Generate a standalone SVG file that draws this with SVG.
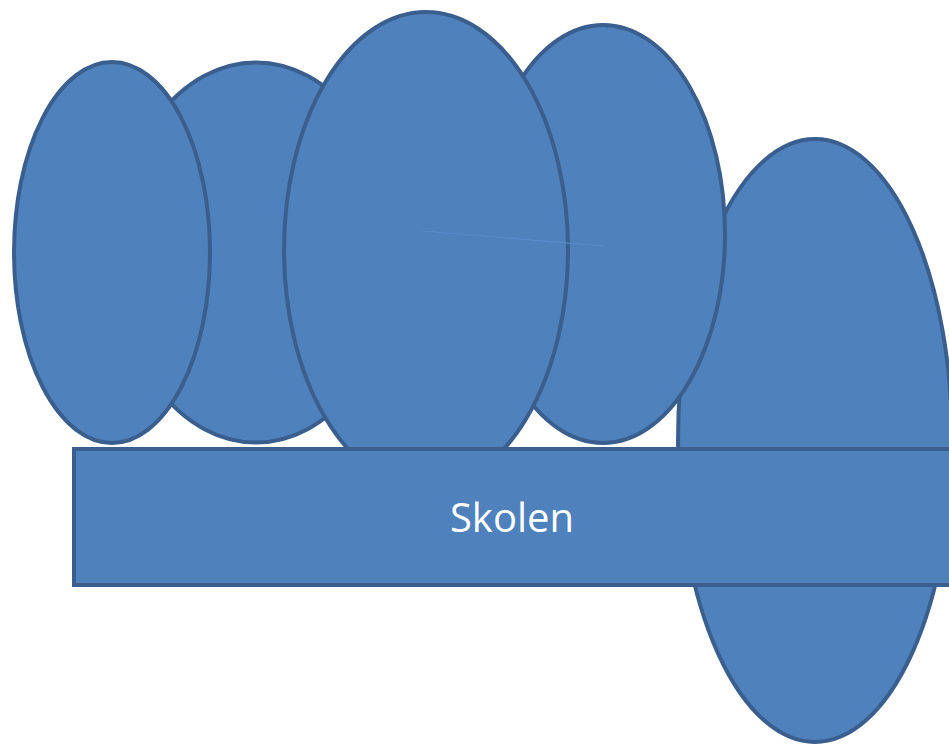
<svg xmlns="http://www.w3.org/2000/svg" width="949" height="745" viewBox="0 0 949 745">
<style>
.shape{fill:#4f81bd;stroke:#3a5f8e;stroke-width:4}
.label{fill:#ffffff;font-family:"Open Sans","Liberation Sans",sans-serif;font-size:40px;text-anchor:middle}
.conn{stroke:#5a8ccb;stroke-width:1.2;fill:none}
</style>
<rect width="949" height="745" fill="#ffffff"/>
<g id="ellipse2"><ellipse class="shape" cx="256" cy="252.5" rx="140" ry="190"/></g>
<g id="ellipse5"><ellipse class="shape" cx="815" cy="440.5" rx="137" ry="301.5"/></g>
<g id="ellipse4"><ellipse class="shape" cx="603" cy="234" rx="122" ry="209"/></g>
<g id="ellipse1"><ellipse class="shape" cx="112" cy="252.5" rx="98" ry="190.5"/></g>
<g id="ellipse3"><ellipse class="shape" cx="426" cy="250" rx="142" ry="238"/></g>
<g id="skolen">
<rect class="shape" x="74" y="449" width="880" height="136"/>
<text class="label" x="512" y="532">Skolen</text>
</g>
<g id="connectors">
<line class="conn" x1="423" y1="231" x2="603" y2="246"/>
</g>
</svg>
